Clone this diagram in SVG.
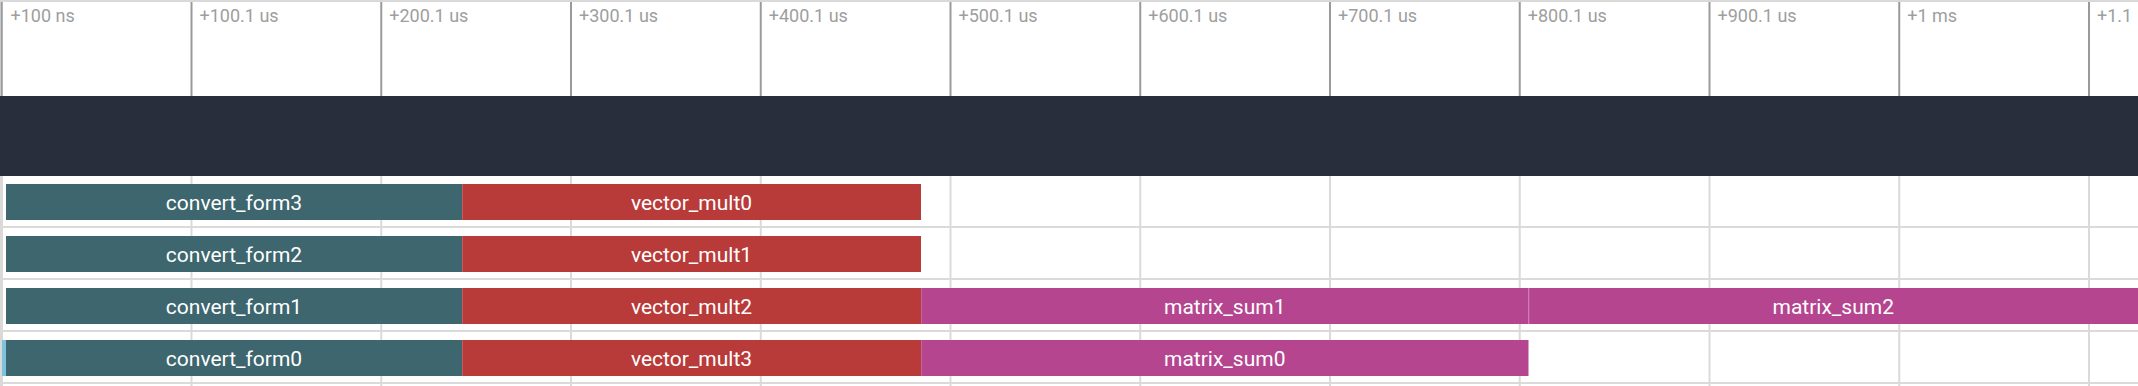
<svg xmlns="http://www.w3.org/2000/svg" width="2138" height="386" viewBox="0 0 2138 386">
<style>
.tick{stroke:#9a9a9a;stroke-width:2}
.grid{stroke:#dadada;stroke-width:2}
.tl{font-family:Roboto,"Liberation Sans",sans-serif;font-size:18px;fill:#9e9e9e}
.bl{font-family:Roboto,"Liberation Sans",sans-serif;font-size:21px;fill:#ffffff;text-anchor:middle}
.cf{fill:#3d666e}
.vm{fill:#b83b39}
.ms{fill:#b5458f}
.sep{stroke:#ffffff;stroke-opacity:0.18;stroke-width:1}
</style>
<rect width="2138" height="386" fill="#ffffff"/>
<g id="ruler">
<rect x="0" y="0" width="2138" height="2" fill="#d9d9d9"/>
<rect x="0" y="2" width="1" height="94" fill="#d9d9d9"/>
<g class="tick">
<line x1="1.75" y1="2" x2="1.75" y2="96"/>
<line x1="191.5" y1="2" x2="191.5" y2="96"/>
<line x1="381.25" y1="2" x2="381.25" y2="96"/>
<line x1="571" y1="2" x2="571" y2="96"/>
<line x1="760.75" y1="2" x2="760.75" y2="96"/>
<line x1="950.5" y1="2" x2="950.5" y2="96"/>
<line x1="1140.25" y1="2" x2="1140.25" y2="96"/>
<line x1="1330" y1="2" x2="1330" y2="96"/>
<line x1="1519.75" y1="2" x2="1519.75" y2="96"/>
<line x1="1709.5" y1="2" x2="1709.5" y2="96"/>
<line x1="1899.25" y1="2" x2="1899.25" y2="96"/>
<line x1="2089" y1="2" x2="2089" y2="96"/>
</g>
<g class="tl">
<text x="10.5" y="22">+100 ns</text>
<text x="199.5" y="22">+100.1 us</text>
<text x="389.25" y="22">+200.1 us</text>
<text x="579" y="22">+300.1 us</text>
<text x="768.75" y="22">+400.1 us</text>
<text x="958.5" y="22">+500.1 us</text>
<text x="1148.25" y="22">+600.1 us</text>
<text x="1338" y="22">+700.1 us</text>
<text x="1527.75" y="22">+800.1 us</text>
<text x="1717.5" y="22">+900.1 us</text>
<text x="1907.25" y="22">+1 ms</text>
<text x="2097" y="22">+1.1</text>
</g>
</g>
<rect id="track-header" x="0" y="96" width="2138" height="80" fill="#282e3b"/>
<g id="grid">
<rect x="0" y="176" width="3" height="210" fill="#d9d9d9"/>
<g class="grid">
<line x1="191.5" y1="176" x2="191.5" y2="386"/>
<line x1="381.25" y1="176" x2="381.25" y2="386"/>
<line x1="571" y1="176" x2="571" y2="386"/>
<line x1="760.75" y1="176" x2="760.75" y2="386"/>
<line x1="950.5" y1="176" x2="950.5" y2="386"/>
<line x1="1140.25" y1="176" x2="1140.25" y2="386"/>
<line x1="1330" y1="176" x2="1330" y2="386"/>
<line x1="1519.75" y1="176" x2="1519.75" y2="386"/>
<line x1="1709.5" y1="176" x2="1709.5" y2="386"/>
<line x1="1899.25" y1="176" x2="1899.25" y2="386"/>
<line x1="2089" y1="176" x2="2089" y2="386"/>
<line x1="0" y1="227" x2="2138" y2="227"/>
<line x1="0" y1="279" x2="2138" y2="279"/>
<line x1="0" y1="331" x2="2138" y2="331"/>
<line x1="0" y1="383" x2="2138" y2="383"/>
</g>
</g>
<g id="convert_form3"><rect class="cf" x="6" y="184" width="456" height="36"/><text class="bl" x="234" y="209.5">convert_form3</text></g>
<g id="vector_mult0"><rect class="vm" x="462" y="184" width="459" height="36"/><text class="bl" x="691.5" y="209.5">vector_mult0</text></g>
<g id="convert_form2"><rect class="cf" x="6" y="236" width="456" height="36"/><text class="bl" x="234" y="261.5">convert_form2</text></g>
<g id="vector_mult1"><rect class="vm" x="462" y="236" width="459" height="36"/><text class="bl" x="691.5" y="261.5">vector_mult1</text></g>
<g id="convert_form1"><rect class="cf" x="6" y="288" width="456" height="36"/><text class="bl" x="234" y="313.5">convert_form1</text></g>
<g id="vector_mult2"><rect class="vm" x="462" y="288" width="459" height="36"/><text class="bl" x="691.5" y="313.5">vector_mult2</text></g>
<g id="matrix_sum1"><rect class="ms" x="921" y="288" width="607.5" height="36"/><text class="bl" x="1224.75" y="313.5">matrix_sum1</text></g>
<g id="matrix_sum2"><rect class="ms" x="1528.5" y="288" width="609.5" height="36"/><text class="bl" x="1833.25" y="313.5">matrix_sum2</text></g>
<g id="convert_form0"><rect x="2" y="340" width="4" height="36" fill="#7ec3dc"/><rect class="cf" x="6" y="340" width="456" height="36"/><text class="bl" x="234" y="365.5">convert_form0</text></g>
<g id="vector_mult3"><rect class="vm" x="462" y="340" width="459" height="36"/><text class="bl" x="691.5" y="365.5">vector_mult3</text></g>
<g id="matrix_sum0"><rect class="ms" x="921" y="340" width="607.5" height="36"/><text class="bl" x="1224.75" y="365.5">matrix_sum0</text></g>
<g id="connectors" class="sep">
<line x1="462.5" y1="184" x2="462.5" y2="220"/>
<line x1="462.5" y1="236" x2="462.5" y2="272"/>
<line x1="462.5" y1="288" x2="462.5" y2="324"/>
<line x1="462.5" y1="340" x2="462.5" y2="376"/>
<line x1="921.5" y1="288" x2="921.5" y2="324"/>
<line x1="921.5" y1="340" x2="921.5" y2="376"/>
<line x1="1529" y1="288" x2="1529" y2="324"/>
</g>
</svg>
